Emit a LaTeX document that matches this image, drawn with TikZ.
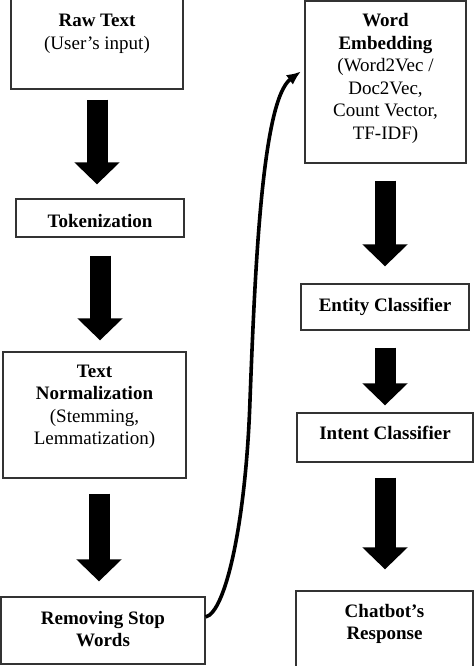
\documentclass[tikz,border=0pt]{standalone}
\usepackage{fontspec}
\setmainfont{Liberation Serif}
\usetikzlibrary{positioning,arrows.meta}

\begin{document}
\begin{tikzpicture}[x=1pt,y=-1pt,
		box/.style={draw=black!80,line width=1.3pt,anchor=base,align=flush center,inner xsep=0pt,inner ysep=0pt,font=\fontsize{19}{22.5}\selectfont},
		fat/.style={line width=21pt,-{Triangle[length=22pt,width=44pt]}},
		curvy/.style={line width=3.6pt,-{Latex[length=14pt,width=12pt]}}]
	\useasboundingbox (0,0) rectangle (474,666);
	% left column
	\node[box,text width=172pt,text height=31pt,text depth=62pt]  (raw)  at (97,27)    {\textbf{Raw Text}\\(User’s input)};
	\node[box,text width=168pt,text height=28pt,text depth=10pt]  (tok)  at (100,227)  {\textbf{Tokenization}};
	\node[box,text width=183pt,text height=25pt,text depth=101pt] (norm) at (94.5,377) {\textbf{Text}\\\textbf{Normalization}\\(Stemming,\\Lemmatization)};
	\node[box,text width=204pt,text height=27pt,text depth=40pt]  (stop) at (103,624)  {\textbf{Removing Stop}\\\textbf{Words}};
	% right column
	\node[box,text width=161pt,text height=26pt,text depth=136pt] (emb)  at (385.5,27) {\textbf{Word}\\\textbf{Embedding}\\(Word2Vec /\\Doc2Vec,\\Count Vector,\\TF-IDF)};
	\node[box,text width=168pt,text height=27pt,text depth=19pt]  (ent)  at (385,311)  {\textbf{Entity Classifier}};
	\node[box,text width=176pt,text height=26pt,text depth=23pt]  (int)  at (385,439)  {\textbf{Intent Classifier}};
	\node[box,text width=177pt,text height=26pt,text depth=73pt]  (chat) at (384.5,617) {\textbf{Chatbot’s}\\\textbf{Response}};

	\draw[fat,shorten <=10pt,shorten >=14pt] (raw.south) -- (raw.south |- tok.north);
	\draw[fat,shorten <=18pt,shorten >=11pt] (tok.south) -- (tok.south |- norm.north);
	\draw[fat,shorten <=15pt,shorten >=15pt] ([xshift=4.5pt]norm.south) -- ([xshift=4.5pt]norm.south |- stop.north);
	\draw[fat,shorten <=17pt,shorten >=17pt] (ent.north |- emb.south) -- (ent.north);
	\draw[fat,shorten <=17pt,shorten >=7pt]  (ent.south) -- (int.north);
	\draw[fat,shorten <=15pt,shorten >=21pt] (int.south) -- (int.south |- chat.north);
	\draw[curvy] ([yshift=13.5pt]stop.east) .. controls (226,612) and (246,520) .. (250,400)
		.. controls (255,270) and (262,100) .. ([xshift=-3.5pt,yshift=10.5pt]emb.west);
\end{tikzpicture}
\end{document}
